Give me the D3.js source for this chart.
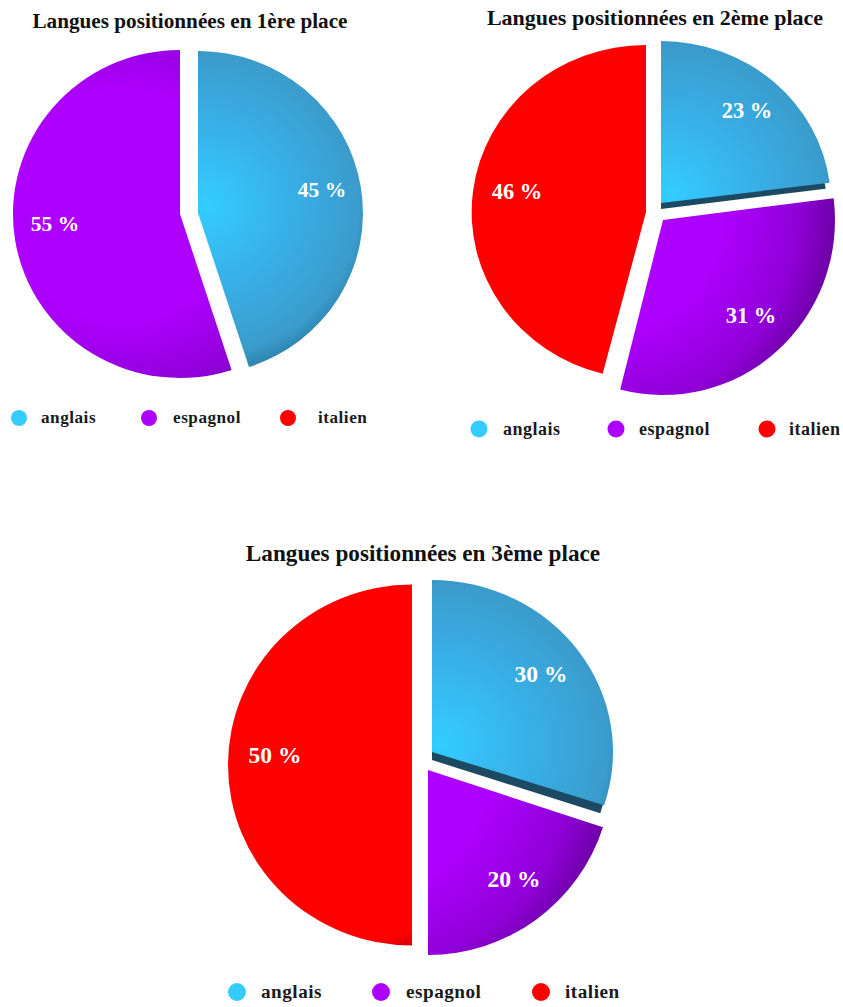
<!DOCTYPE html>
<html>
    <head>
        <meta charset="utf-8">
        <title>Langues positionnées</title>
        <script src="https://d3js.org/d3.v7.min.js"></script>
        <style>
            body { margin: 0; background: #fff; }
            text { font-family: "Liberation Serif", serif; font-weight: bold; }
        </style>
    </head>
    <body>
        <script>
            // Donnees
            var langues = ["anglais", "espagnol", "italien"];
            var place1 = [45, 55, 0];
            var place2 = [23, 31, 46];
            var place3 = [30, 20, 50];
            var titres = ["Langues positionnées en 1ère place", "Langues positionnées en 2ème place", "Langues positionnées en 3ème place"];

            // Couleurs : base, sombre, debut de l'assombrissement
            var couleurs = d3.scaleOrdinal().domain(langues).range(["#33ccff", "#ae00ff", "#ff0000"]);
            var sombres = d3.scaleOrdinal().domain(langues).range(["#2b7fa8", "#6a00a0", "#7a0000"]);

            // Mise en page : chaque part a son centre et ses rayons (parts eclatees)
            var camemberts = [
                { valeurs: place1, titre: [190, 28, 21.2], taille: 21.5,
                  parts: [[198, 213, 165, 162, 0], [180, 214, 167, 164, 0], null],
                  etiquettes: [[322, 197], [55, 231]],
                  legende: { y: 418, r: 8, fs: 17.2, rond: [19, 149, 288], texte: [41, 173, 318] } },
                { valeurs: place2, titre: [655, 25, 22], taille: 22.5,
                  parts: [[661, 203, 170, 162, 6], [663, 220, 172, 175, 0], [646, 212, 174, 167, 0]],
                  etiquettes: [[747, 118], [751, 323], [517, 199]],
                  legende: { y: 429, r: 8.5, fs: 18, rond: [479, 616, 767], texte: [503, 639, 789] } },
                { valeurs: place3, titre: [423, 561, 23.2], taille: 23.5,
                  parts: [[432, 752, 181, 172, 8], [428, 770, 184, 185, 0], [412, 765, 184, 180.5, 0]],
                  etiquettes: [[541, 682], [514, 887], [275, 763]],
                  legende: { y: 992, r: 9, fs: 19.2, rond: [237, 381, 541], texte: [261, 406, 565] } }
            ];

            var svg = d3.select("body").append("svg").attr("width", 843).attr("height", 1007);
            var defs = svg.append("defs");

            var pie = d3.pie().sort(null).value(function(d) { return d; });
            var arc = d3.arc().innerRadius(0).outerRadius(1);

            function degrade(id, i) {
                // lumiere pres du centre pour le bleu, vers la gauche pour les autres
                var g = defs.append("radialGradient").attr("id", id)
                    .attr("gradientUnits", "userSpaceOnUse")
                    .attr("cx", i == 0 ? 0.05 : -0.35)
                    .attr("cy", -0.05)
                    .attr("r", i == 0 ? 1.05 : 1.38);
                var base = couleurs(langues[i]), sombre = sombres(langues[i]);
                var arrets = i == 0 ? [[0, base], [0.5, "#38aee6"], [0.88, "#3a9ccc"], [1, sombre]]
                    : i == 1 ? [[0, base], [0.5, base], [0.82, "#9000d8"], [1, sombre]]
                    : [[0, base], [0.74, base], [0.79, "#e00000"], [1, sombre]];
                g.selectAll("stop").data(arrets).enter().append("stop")
                    .attr("offset", function(d) { return d[0]; })
                    .attr("stop-color", function(d) { return d[1]; });
            }

            camemberts.forEach(function(c, n) {
                var g = svg.append("g");
                var arcs = pie(c.valeurs);

                // Titre
                g.append("text").attr("x", c.titre[0]).attr("y", c.titre[1])
                    .attr("text-anchor", "middle").attr("font-size", c.titre[2])
                    .attr("fill", "#111").text(titres[n]);

                // Parts
                arcs.forEach(function(a, i) {
                    var p = c.parts[i];
                    if (!p || a.value == 0) return;
                    var id = "g" + n + "-" + i;
                    degrade(id, i);
                    if (p[4] > 0) {
                        // tranche sombre sous la part
                        g.append("path").attr("d", arc(a))
                            .attr("transform", "translate(" + p[0] + "," + (p[1] + p[4]) + ") scale(" + (p[2] - 4) + "," + p[3] + ")")
                            .attr("fill", "#1c4a63");
                    }
                    g.append("path").attr("d", arc(a))
                        .attr("transform", "translate(" + p[0] + "," + p[1] + ") scale(" + p[2] + "," + p[3] + ")")
                        .attr("fill", "url(#" + id + ")");
                });

                // Pourcentages
                var visibles = arcs.filter(function(a) { return a.value > 0; });
                g.selectAll("text.pct").data(visibles).enter().append("text")
                    .attr("class", "pct")
                    .attr("x", function(d, i) { return c.etiquettes[i][0]; })
                    .attr("y", function(d, i) { return c.etiquettes[i][1]; })
                    .attr("text-anchor", "middle").attr("font-size", c.taille)
                    .attr("fill", "#fff")
                    .text(function(d) { return d.value + " %"; });

                // Legende
                g.selectAll("circle").data(langues).enter().append("circle")
                    .attr("cx", function(d, i) { return c.legende.rond[i]; })
                    .attr("cy", c.legende.y).attr("r", c.legende.r)
                    .attr("fill", function(d) { return couleurs(d); });
                g.selectAll("text.leg").data(langues).enter().append("text")
                    .attr("class", "leg")
                    .attr("x", function(d, i) { return c.legende.texte[i]; })
                    .attr("y", c.legende.y + c.legende.r * 0.68)
                    .attr("font-size", c.legende.fs).attr("fill", "#1a1a1a")
                    .attr("letter-spacing", 0.5)
                    .text(function(d) { return d; });
            });
        </script>
    </body>
</html>
